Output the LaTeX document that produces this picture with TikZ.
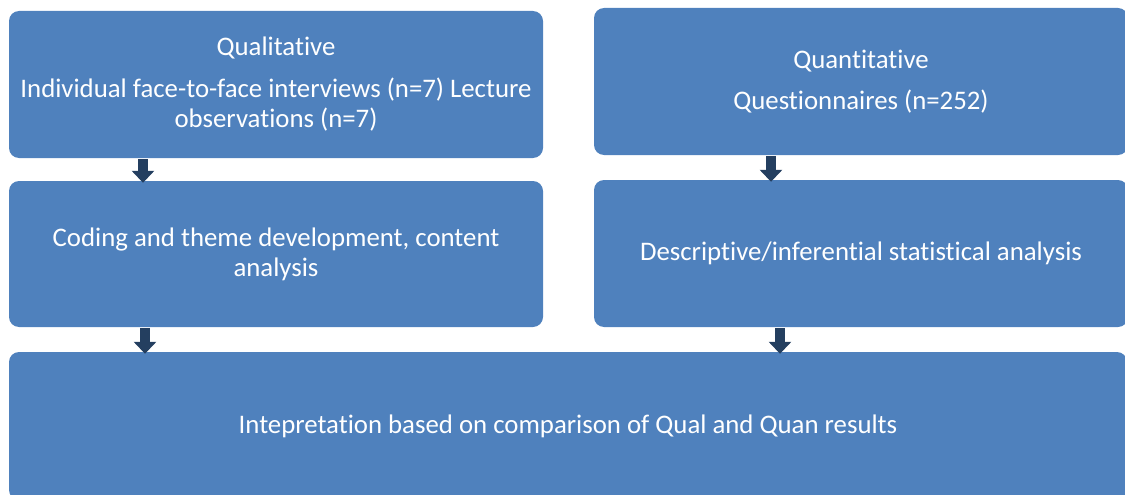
\documentclass[tikz,border=0pt]{standalone}
\usepackage{fontspec}
\setmainfont{Carlito}[Ligatures=NoCommon]
\usetikzlibrary{arrows.meta}
\definecolor{boxblue}{HTML}{4F81BD}
\definecolor{arrowblue}{HTML}{243F60}
\begin{document}
\begin{tikzpicture}[x=1pt,y=-1pt,
	box node/.style={rectangle,rounded corners=10pt,fill=boxblue,text=white,align=center,inner sep=0pt,minimum width=534pt,minimum height=147pt},
	block arrow/.style={draw=arrowblue,line width=10pt,shorten <=1pt,shorten >=-2pt,-{Triangle[width=22pt,length=12pt]}}]
	\tikzstyle{every node}=[font=\fontsize{26.8}{30}\selectfont]
	\useasboundingbox (0,0) rectangle (1125,495);
	\draw
		(276,84.5) node[box node](qual) {Qualitative\\[12pt]Individual face-to-face interviews (n=7) Lecture\\observations (n=7)}
		(861,81.5) node[box node](quan) {Quantitative\\[11pt]Questionnaires (n=252)}
		(276,254) node[box node,minimum height=146pt](coding) {Coding and theme development, content\\analysis}
		(861,253.5) node[box node](stats) {Descriptive/inferential statistical analysis}
		(568,426) node[box node,minimum width=1118pt,minimum height=148pt](interp) {Intepretation based on comparison of Qual and Quan results};
	\draw [block arrow] ([xshift=-133pt]qual.south) to ([xshift=-133pt]coding.north);
	\draw [block arrow] ([xshift=-90pt]quan.south) to ([xshift=-90pt]stats.north);
	\draw [block arrow] ([xshift=-131pt]coding.south) to ([xshift=-423pt]interp.north);
	\draw [block arrow] ([xshift=-81pt]stats.south) to ([xshift=212pt]interp.north);
\end{tikzpicture}
\end{document}
